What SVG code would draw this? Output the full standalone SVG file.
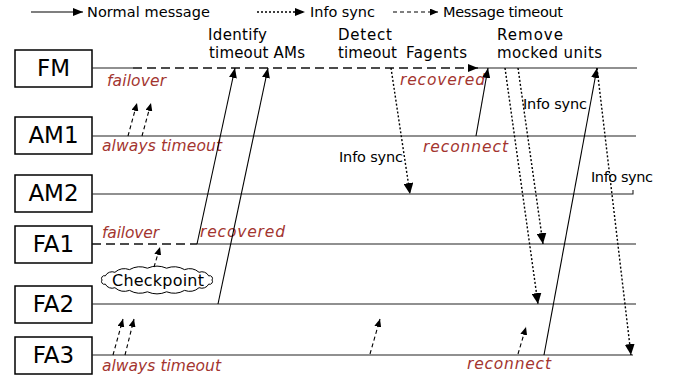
<svg xmlns="http://www.w3.org/2000/svg" width="675" height="381" viewBox="0 0 675 381">
<style>
.t{font-family:"DejaVu Sans","Liberation Sans",sans-serif;fill:#000;}
.lbl{font-size:14.5px;}
.hd{font-size:15px;}
.ev{font-size:15.5px;font-style:italic;fill:#a3352f;}
.nd{font-size:23px;}
.box{fill:#fff;stroke:#000;stroke-width:1.5;}
.life{stroke:#222;stroke-width:1.1;fill:none;}
.msg{stroke:#000;stroke-width:1.1;fill:none;}
.dot{stroke:#000;stroke-width:1.4;stroke-dasharray:2,2;fill:none;}
.dsh{stroke:#000;stroke-width:1.1;stroke-dasharray:4,3;fill:none;}
.big{stroke:#111;stroke-width:1.6;stroke-dasharray:9,5;fill:none;}
</style>
<defs>
<marker id="a" markerUnits="userSpaceOnUse" markerWidth="10" markerHeight="8" refX="10" refY="4" orient="auto"><path d="M0,0 L10,4 L0,8 z" fill="#000"/></marker>
<marker id="ad" markerUnits="userSpaceOnUse" markerWidth="11" markerHeight="10" refX="11" refY="5" orient="auto"><path d="M0,0 L11,5 L0,10 z" fill="#000"/></marker>
<marker id="as" markerUnits="userSpaceOnUse" markerWidth="8" markerHeight="7" refX="8" refY="3.5" orient="auto"><path d="M0,0 L8,3.5 L0,7 z" fill="#000"/></marker>
</defs>

<g id="legend">
<line x1="31" y1="12" x2="83" y2="12" class="msg" marker-end="url(#a)"/>
<text x="87" y="17" class="t lbl" textLength="123">Normal message</text>
<line x1="257" y1="12" x2="305" y2="12" class="dot" marker-end="url(#a)"/>
<text x="310" y="17" class="t lbl" textLength="65">Info sync</text>
<line x1="393" y1="12" x2="438" y2="12" class="dsh" marker-end="url(#as)"/>
<text x="443" y="17" class="t lbl" textLength="120">Message timeout</text>
</g>

<g id="headings">
<text x="208" y="40" class="t hd" textLength="59">Identify</text>
<text x="209" y="58" class="t hd" textLength="96">timeout AMs</text>
<text x="338" y="40" class="t hd" textLength="54">Detect</text>
<text x="338" y="58" class="t hd" textLength="59">timeout</text>
<text x="406" y="58" class="t hd" textLength="61">Fagents</text>
<text x="497" y="40" class="t hd" textLength="66">Remove</text>
<text x="497" y="58" class="t hd" textLength="105">mocked units</text>
</g>

<g id="FM">
<rect x="15" y="50" width="77" height="37" class="box"/>
<text x="53.5" y="76" class="t nd" text-anchor="middle">FM</text>
<line x1="92" y1="68" x2="133" y2="68" class="life"/>
<line x1="133" y1="68" x2="478" y2="68" class="big" marker-end="url(#a)"/>
<line x1="476" y1="68" x2="637" y2="68" class="life"/>
<text x="107" y="86" class="t ev" textLength="59">failover</text>
<text x="400" y="85" class="t ev" textLength="85">recovered</text>
</g>

<g id="AM1">
<rect x="15" y="117" width="77" height="37" class="box"/>
<text x="53.5" y="143" class="t nd" text-anchor="middle">AM1</text>
<line x1="92" y1="136" x2="636" y2="136" class="life"/>
<text x="102" y="151" class="t ev" textLength="120">always timeout</text>
<text x="423" y="152" class="t ev" textLength="85">reconnect</text>
</g>

<g id="AM2">
<rect x="15" y="175" width="77" height="37" class="box"/>
<text x="53.5" y="201" class="t nd" text-anchor="middle">AM2</text>
<path d="M92,194 H633 V190" class="life"/>
</g>

<g id="FA1">
<rect x="15" y="226" width="77" height="37" class="box"/>
<text x="53.5" y="252" class="t nd" text-anchor="middle">FA1</text>
<line x1="92" y1="244" x2="197" y2="244" class="big"/>
<line x1="197" y1="244" x2="636" y2="244" class="life"/>
<text x="102" y="238" class="t ev" textLength="57">failover</text>
<text x="200" y="237" class="t ev" textLength="85">recovered</text>
</g>

<g id="FA2">
<rect x="15" y="286" width="77" height="37" class="box"/>
<text x="53.5" y="312" class="t nd" text-anchor="middle">FA2</text>
<line x1="92" y1="304" x2="636" y2="304" class="life"/>
</g>

<g id="FA3">
<rect x="15" y="337" width="77" height="37" class="box"/>
<text x="53.5" y="363" class="t nd" text-anchor="middle">FA3</text>
<line x1="92" y1="355" x2="633" y2="355" class="life"/>
<text x="102" y="371" class="t ev" textLength="119">always timeout</text>
<text x="467" y="369" class="t ev" textLength="84">reconnect</text>
</g>

<g id="Checkpoint">
<path d="M212,280 A2.75,2.75 0 0 1 208.7,284.1 A7.6,7.6 0 0 1 199.1,287.7 A14.8,14.8 0 0 1 184.5,290.4 A21,21 0 0 1 166.6,291.8 A24,24 0 0 1 147.4,291.8 A21,21 0 0 1 129.5,290.4 A14.8,14.8 0 0 1 114.9,287.7 A7.6,7.6 0 0 1 105.3,284.1 A2.75,2.75 0 0 1 102,280 A2.75,2.75 0 0 1 105.3,275.9 A7.6,7.6 0 0 1 114.9,272.3 A14.8,14.8 0 0 1 129.5,269.6 A21,21 0 0 1 147.4,268.2 A24,24 0 0 1 166.6,268.2 A21,21 0 0 1 184.5,269.6 A14.8,14.8 0 0 1 199.1,272.3 A7.6,7.6 0 0 1 208.7,275.9 A2.75,2.75 0 0 1 212,280 Z" fill="#fff" stroke="#000" stroke-width="1"/>
<text x="158" y="286" class="t" font-size="16" text-anchor="middle" textLength="92">Checkpoint</text>
</g>

<g id="connectors">
<line x1="197" y1="244" x2="235" y2="68" class="msg" marker-end="url(#a)"/>
<line x1="218" y1="304" x2="268" y2="68" class="msg" marker-end="url(#a)"/>
<line x1="476" y1="136" x2="488" y2="68" class="msg" marker-end="url(#a)"/>
<line x1="544" y1="355" x2="597" y2="68" class="msg" marker-end="url(#a)"/>

<line x1="391" y1="68" x2="410" y2="194" class="dot" marker-end="url(#ad)"/>
<line x1="505" y1="68" x2="538" y2="304" class="dot" marker-end="url(#ad)"/>
<line x1="518" y1="68" x2="543" y2="244" class="dot" marker-end="url(#ad)"/>
<line x1="597" y1="68" x2="631" y2="355" class="dot" marker-end="url(#ad)"/>

<line x1="128" y1="136" x2="137" y2="103" class="dsh" marker-end="url(#as)"/>
<line x1="142" y1="136" x2="151" y2="103" class="dsh" marker-end="url(#as)"/>
<line x1="113" y1="355" x2="123" y2="319" class="dsh" marker-end="url(#as)"/>
<line x1="125" y1="355" x2="134" y2="319" class="dsh" marker-end="url(#as)"/>
<line x1="370" y1="354" x2="380" y2="319" class="dsh" marker-end="url(#as)"/>
<line x1="518" y1="354" x2="526" y2="327" class="dsh" marker-end="url(#as)"/>
<line x1="154" y1="267" x2="160" y2="247" class="dsh" marker-end="url(#as)"/>

<text x="339" y="162" class="t lbl" textLength="64">Info sync</text>
<text x="523" y="109" class="t lbl" textLength="64">Info sync</text>
<text x="591" y="182" class="t lbl" textLength="62">Info sync</text>
</g>
</svg>
